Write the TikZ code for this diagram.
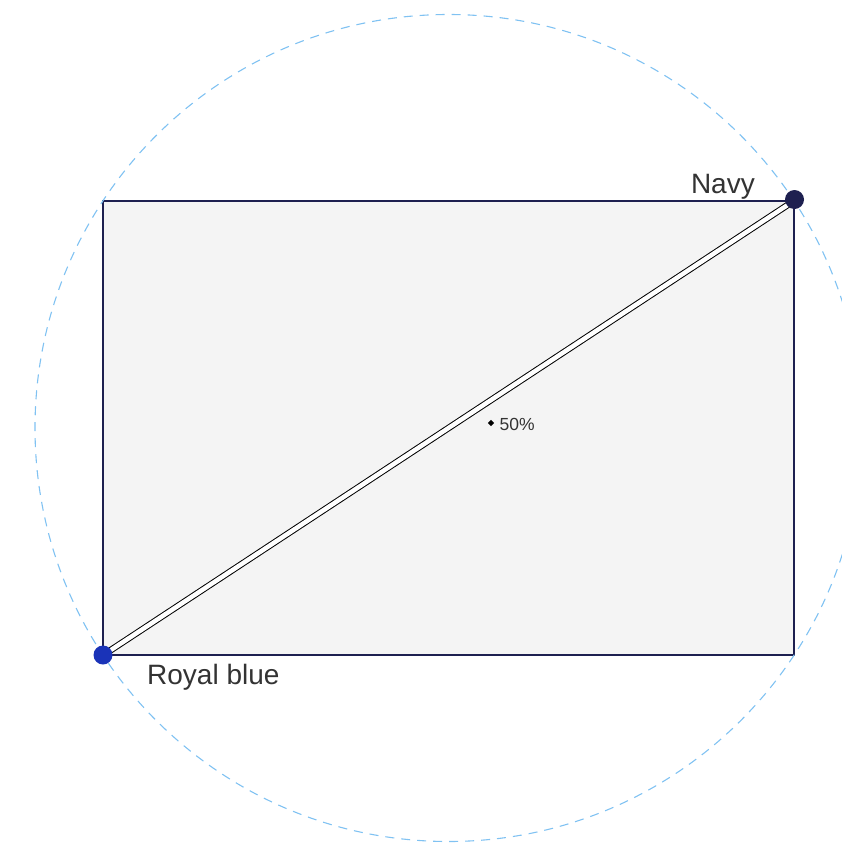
\documentclass[tikz,border=0pt]{standalone}
\usepackage{fontspec}
\setmainfont{Liberation Sans}
\usetikzlibrary{shapes.geometric}
\definecolor{boxfill}{HTML}{F4F4F4}
\definecolor{navyc}{HTML}{1E2050}
\definecolor{royalc}{HTML}{1A33B8}
\definecolor{guide}{HTML}{80C2F2}
\definecolor{txt}{HTML}{333333}
\tikzset{
  panel/.style={rectangle, draw=navyc, fill=boxfill, line width=1.2pt, minimum width=691pt, minimum height=454pt, inner sep=0pt},
  dotnode/.style={circle, inner sep=0pt, minimum size=19pt},
  lbl/.style={text=txt, inner sep=0pt, font=\fontsize{28}{33}\selectfont},
  smalllbl/.style={text=txt, inner sep=0pt, font=\fontsize{17.5}{21}\selectfont},
  guidecircle/.style={draw=guide, line width=1.1pt, dash pattern=on 9pt off 7pt},
  diag/.style={draw=black, double=white, line width=1pt, double distance=4.5pt},
  mark50/.style={diamond, fill=black, inner sep=0pt, minimum size=6.5pt}
}
\begin{document}
\begin{tikzpicture}[x=1pt,y=-1pt]
\useasboundingbox (0,0) rectangle (842,846);
\node[panel] (box) at (448.5,428) {};
\draw[guidecircle] (box.center) circle[radius=413.5];
\coordinate (sw) at (box.south west);
\coordinate (ne) at (box.north east);
\draw[diag] (sw) -- (ne);
\node[dotnode, fill=royalc] (rb) at (103,655) {};
\node[dotnode, fill=navyc] (nv) at (794.5,199.5) {};
\node[lbl, anchor=base west] (rbl) at (147,684) {Royal blue};
\node[lbl, anchor=base east] (nvl) at (755,193) {Navy};
\node[mark50] (m) at (491,423) {};
\node[smalllbl, anchor=west] (ml) at (499.5,424) {50\%};
\end{tikzpicture}
\end{document}
